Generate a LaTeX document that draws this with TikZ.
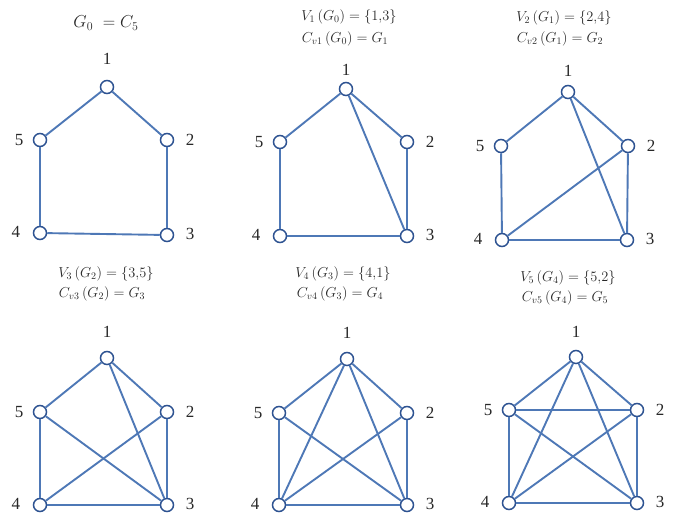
\documentclass[tikz,border=0pt]{standalone}
\usepackage{fontspec}
\setmainfont{Liberation Serif}
\definecolor{edgeblue}{RGB}{78,120,182}
\definecolor{vblue}{RGB}{45,82,145}
\definecolor{txt}{RGB}{40,40,40}
\tikzset{
  vtx/.style={circle,draw=vblue,line width=1.5pt,fill=white,minimum size=13pt,inner sep=0pt},
  edg/.style={draw=edgeblue,line width=1.9pt},
  lab/.style={font=\fontsize{17}{17}\selectfont,inner sep=0pt,text=txt},
  ttl/.style={font=\fontsize{14}{14}\selectfont,inner sep=0pt,text=txt}
}
\newcommand\gverts[7]{%
  \node[vtx] (#1-1) at #2 {};
  \node[vtx] (#1-2) at #3 {};
  \node[vtx] (#1-3) at #4 {};
  \node[vtx] (#1-4) at #5 {};
  \node[vtx] (#1-5) at #6 {};
  \node[lab] (#1-l1) at ([yshift=#7]#1-1.center) {1};
  \node[lab] (#1-l2) at ([xshift=23pt]#1-2.center) {2};
  \node[lab] (#1-l3) at ([xshift=23pt,yshift=1pt]#1-3.center) {3};
  \node[lab] (#1-l4) at ([xshift=-24pt,yshift=1pt]#1-4.center) {4};
  \node[lab] (#1-l5) at ([xshift=-21pt]#1-5.center) {5};
}
\newcommand\cyc[1]{%
  \draw[edg] (#1-1) -- (#1-2);
  \draw[edg] (#1-2) -- (#1-3);
  \draw[edg] (#1-3) -- (#1-4);
  \draw[edg] (#1-4) -- (#1-5);
  \draw[edg] (#1-5) -- (#1-1);
}
\begin{document}
\begin{tikzpicture}[x=1pt,y=-1pt]
\useasboundingbox (0,0) rectangle (673,515);

% G0
\gverts{a}{(107,87)}{(167,140)}{(167,235)}{(40,233)}{(40,140)}{28pt}
\cyc{a}
% G1
\gverts{b}{(346,89)}{(407,142)}{(407,236)}{(280,236)}{(280,142)}{19pt}
\cyc{b}
\draw[edg] (b-1) -- (b-3);
% G2
\gverts{c}{(568,92)}{(628,146)}{(627,240)}{(502,240)}{(501,146)}{21pt}
\cyc{c}
\draw[edg] (c-1) -- (c-3);
\draw[edg] (c-2) -- (c-4);
% G3
\gverts{d}{(107,358)}{(167,412)}{(167,505)}{(40,505)}{(40,412)}{26pt}
\cyc{d}
\draw[edg] (d-1) -- (d-3);
\draw[edg] (d-2) -- (d-4);
\draw[edg] (d-3) -- (d-5);
% G4
\gverts{e}{(347,359)}{(407,413)}{(407,505)}{(279,505)}{(279,413)}{26pt}
\cyc{e}
\draw[edg] (e-1) -- (e-3);
\draw[edg] (e-2) -- (e-4);
\draw[edg] (e-3) -- (e-5);
\draw[edg] (e-4) -- (e-1);
% G5
\gverts{f}{(576,357)}{(637,410)}{(637,503)}{(509,503)}{(509,410)}{25pt}
\cyc{f}
\draw[edg] (f-1) -- (f-3);
\draw[edg] (f-2) -- (f-4);
\draw[edg] (f-3) -- (f-5);
\draw[edg] (f-4) -- (f-1);
\draw[edg] (f-5) -- (f-2);

% titles
\node[ttl,font=\fontsize{17}{17}\selectfont] (t0) at (106,23) {$G_0\; = C_5$};
\node[ttl] (t1a) at (349,17) {$V_1\,(G_0) = \{1{,}3\}$};
\node[ttl] (t1b) at (345,39) {$C_{v1}\,(G_0) = G_1$};
\node[ttl] (t2a) at (564,18) {$V_2\,(G_1) = \{2{,}4\}$};
\node[ttl] (t2b) at (560,39) {$C_{v2}\,(G_1) = G_2$};
\node[ttl] (t3a) at (106,274) {$V_3\,(G_2) = \{3{,}5\}$};
\node[ttl] (t3b) at (102,294) {$C_{v3}\,(G_2) = G_3$};
\node[ttl] (t4a) at (343,274) {$V_4\,(G_3) = \{4{,}1\}$};
\node[ttl] (t4b) at (340,294) {$C_{v4}\,(G_3) = G_4$};
\node[ttl] (t5a) at (568,278) {$V_5\,(G_4) = \{5{,}2\}$};
\node[ttl] (t5b) at (565,298) {$C_{v5}\,(G_4) = G_5$};
\end{tikzpicture}
\end{document}
